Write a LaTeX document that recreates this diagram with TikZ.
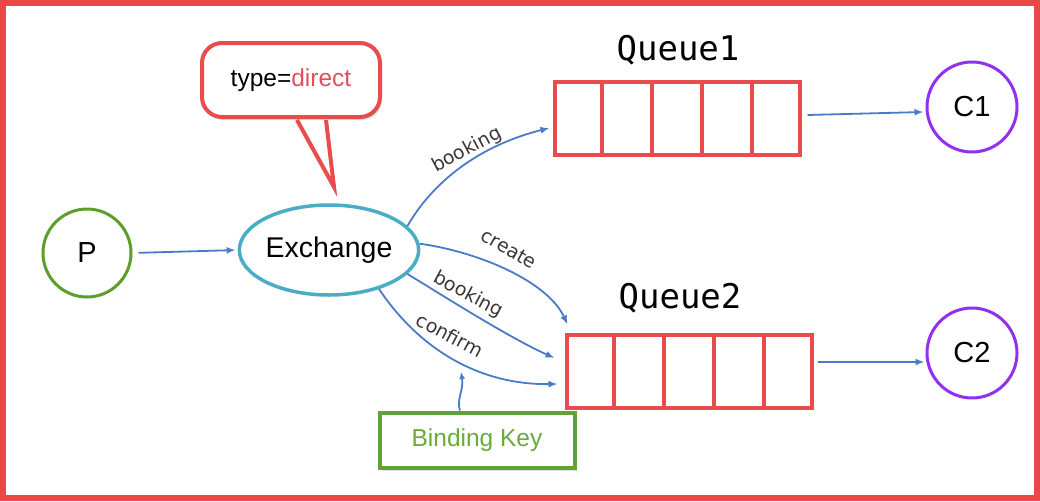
\documentclass[tikz,border=0pt]{standalone}
\usepackage{fontspec}
\setmainfont{Liberation Sans}
\newfontfamily\monofnt{DejaVu Sans Mono}
\newfontfamily\lblfnt{DejaVu Sans}
\usetikzlibrary{arrows.meta,calc,shapes.geometric,shadows}
\definecolor{frame}{HTML}{E8484A}
\definecolor{qred}{HTML}{E84C4C}
\definecolor{pgreen}{HTML}{5C9E2C}
\definecolor{bkgreen}{HTML}{62A234}
\definecolor{bktext}{HTML}{6AAB3A}
\definecolor{teal}{HTML}{4BACC6}
\definecolor{arrblue}{HTML}{4A7BC8}
\definecolor{cpurple}{HTML}{9030F0}
\definecolor{lblgray}{HTML}{3D3535}
\definecolor{dirred}{HTML}{E0505A}
\begin{document}
\begin{tikzpicture}[x=1pt,y=-1pt,
  conn/.style={draw=arrblue,line width=1.8pt,-{Latex[length=9pt,width=7pt]}},
  roundnode/.style={circle,line width=3pt,minimum size=88pt,inner sep=0pt,font=\fontsize{29}{33}\selectfont},
  qbox/.style={draw=qred,line width=4pt,minimum width=245pt,minimum height=73pt,inner sep=0pt},
  qlabel/.style={font=\monofnt\fontsize{34}{38}\selectfont},
  elabel/.style={font=\lblfnt\fontsize{19}{22}\selectfont,text=lblgray,inner sep=0pt}]
\useasboundingbox (0,0) rectangle (1040,501);
\draw[frame,line width=6pt] (3,3) rectangle (1037,498);

% nodes
\node[roundnode,draw=pgreen] (P) at (87,253) {P};
\node[ellipse,draw=teal,line width=3.5pt,minimum width=178pt,minimum height=90pt,inner sep=0pt,font=\fontsize{28.5}{32}\selectfont] (ex) at (329,250) {Exchange};
\node[qbox] (q1) at (677,118) {};
\node[qbox] (q2) at (689,371) {};
\foreach \q in {q1,q2}{
  \foreach \i in {1,...,4}
    \draw[qred,line width=4pt] ($(\q.north west)!\i/5!(\q.north east)$) -- ($(\q.south west)!\i/5!(\q.south east)$);
}
\node[qlabel] (q1lbl) at (678,50) {Queue1};
\node[qlabel] (q2lbl) at (680,298) {Queue2};
\node[roundnode,draw=cpurple,minimum size=90pt] (C1) at (972,107) {C1};
\node[roundnode,draw=cpurple,minimum size=90pt] (C2) at (972,353) {C2};

% speech bubble
\node[draw=qred,line width=4pt,rounded corners=20pt,fill=white,minimum width=178pt,minimum height=74pt,
      drop shadow={opacity=0.25,shadow xshift=2pt,shadow yshift=-3pt},font=\fontsize{24.5}{28}\selectfont] (bub) at (291,80) {type=\textcolor{dirred}{direct}};
\coordinate (tip) at (334,187);
\fill[white] ($(bub.south)+(6,4)$) -- (tip) -- ($(bub.south)+(36,4)$) -- cycle;
\draw[qred,line width=4pt,line join=miter] ($(bub.south)+(6,1)$) -- (tip) -- ($(bub.south)+(35,1)$);

% binding key
\node[draw=bkgreen,line width=4pt,fill=white,minimum width=195pt,minimum height=55pt,
      drop shadow={opacity=0.25,shadow xshift=2pt,shadow yshift=-3pt},
      text=bktext,font=\fontsize{24.5}{28}\selectfont] (bk) at (477,440) {Binding Key};
\coordinate (bkend) at (461,372);
\draw[conn,-{Latex[length=7pt,width=6pt]}] ([xshift=-17pt]bk.north) .. controls (456,400) and (464,390) .. (bkend);

% connectors
\draw[conn,shorten <=6pt,shorten >=2pt] (P.east) -- (ex.west);
\draw[conn] (ex.17) .. controls (428,190) and (470,148) .. ([xshift=-3pt,yshift=-10pt]q1.west);
\draw[conn] (ex.4) .. controls (480,252) and (548,282) .. ([xshift=3pt,yshift=8pt]q2.north west);
\draw[conn] (ex.-17) .. controls (450,300) and (510,338) .. ([xshift=-10pt,yshift=13pt]q2.west);
\draw[conn] (ex.-38) .. controls (420,350) and (480,385) .. ([xshift=-7pt,yshift=-13pt]q2.west);
\draw[conn] ([xshift=6pt,yshift=3pt]q1.east) -- ([xshift=-2pt,yshift=-5pt]C1.west);
\draw[conn] ([xshift=4pt,yshift=9pt]q2.east) -- ([xshift=-1pt,yshift=-9pt]C2.west);

% edge labels
\node[elabel,rotate=28] (l1) at (467,150) {booking};
\node[elabel,rotate=-30] (l2) at (509,249) {create};
\node[elabel,rotate=-28] (l3) at (468,295) {booking};
\node[elabel,rotate=-28] (l4) at (450,335) {confirm};
\end{tikzpicture}
\end{document}
